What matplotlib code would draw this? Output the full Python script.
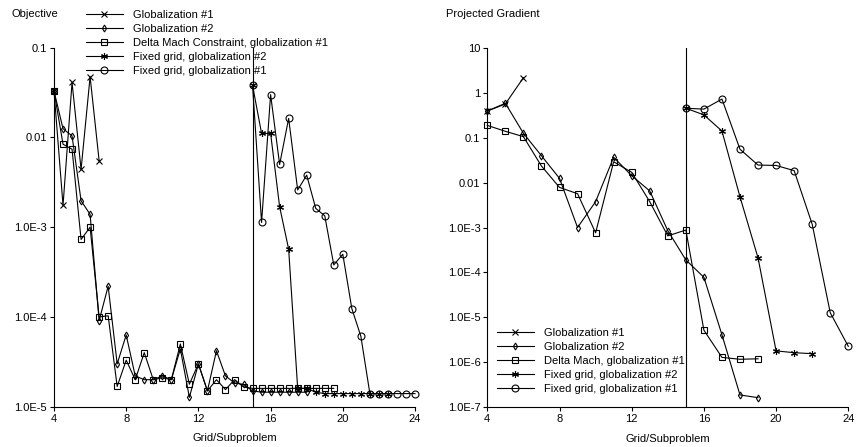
import matplotlib
matplotlib.use('Agg')
import matplotlib.pyplot as plt
from matplotlib.ticker import FixedLocator, FixedFormatter

plt.rcParams['font.family'] = ['Liberation Sans', 'DejaVu Sans']
plt.rcParams['font.size'] = 8

# ---- Objective (left panel), subproblems in steps of 0.5 ----
obj_g1_x = [4, 4.5, 5, 5.5, 6, 6.5]
obj_g1_y = [0.033, 0.00175, 0.041, 0.0044, 0.0475, 0.0055]

obj_g2_x = [4 + 0.5 * i for i in range(29)]
obj_g2_y = [0.033, 0.0125, 0.0104, 0.00197, 0.00139, 9.1e-5, 2.2e-4, 3.0e-5,
            6.3e-5, 2.2e-5, 2.0e-5, 2.0e-5, 2.2e-5, 2.0e-5, 4.4e-5, 1.27e-5,
            3.0e-5, 1.5e-5, 4.2e-5, 2.2e-5, 1.84e-5, 1.77e-5, 1.5e-5,
            1.45e-5, 1.45e-5, 1.45e-5, 1.45e-5, 1.45e-5, 1.45e-5]

obj_dm_x = [4 + 0.5 * i for i in range(32)]
obj_dm_y = [0.033, 0.0084, 0.0074, 7.3e-4, 1.0e-3, 1.0e-4, 1.03e-4, 1.68e-5,
            3.3e-5, 2.0e-5, 4.0e-5, 2.0e-5, 2.1e-5, 2.0e-5, 5.0e-5, 1.78e-5,
            3.0e-5, 1.5e-5, 2.0e-5, 1.55e-5, 2.0e-5, 1.66e-5, 1.6e-5,
            1.6e-5, 1.6e-5, 1.6e-5, 1.6e-5, 1.6e-5, 1.6e-5, 1.6e-5, 1.6e-5, 1.6e-5]

obj_fg2_x = [15 + 0.5 * i for i in range(16)]
obj_fg2_y = [0.038, 0.0111, 0.0111, 1.69e-3, 5.7e-4, 1.6e-5, 1.6e-5, 1.45e-5,
             1.4e-5, 1.4e-5, 1.4e-5, 1.4e-5, 1.4e-5, 1.4e-5, 1.4e-5, 1.4e-5]

obj_fg1_x = [15 + 0.5 * i for i in range(19)]
obj_fg1_y = [0.038, 1.13e-3, 0.030, 5.0e-3, 0.0163, 2.6e-3, 3.8e-3, 1.62e-3,
             1.34e-3, 3.8e-4, 5.0e-4, 1.24e-4, 6.1e-5, 1.4e-5, 1.4e-5, 1.4e-5,
             1.4e-5, 1.4e-5, 1.4e-5]

# ---- Projected gradient (right panel) ----
pg_g1_x = [4, 5, 6]
pg_g1_y = [0.39, 0.56, 2.15]

pg_g2_x = list(range(4, 20))
pg_g2_y = [0.39, 0.58, 0.125, 0.0395, 0.0124, 1.0e-3, 3.75e-3, 0.0365, 0.0142,
           6.5e-3, 8.5e-4, 1.9e-4, 7.8e-5, 4.1e-6, 1.88e-7, 1.64e-7]

pg_dm_x = list(range(4, 20))
pg_dm_y = [0.187, 0.138, 0.105, 0.0233, 7.8e-3, 5.65e-3, 7.6e-4, 0.029, 0.0169,
           3.75e-3, 6.5e-4, 8.8e-4, 5.2e-6, 1.29e-6, 1.17e-6, 1.2e-6]

pg_fg2_x = list(range(15, 23))
pg_fg2_y = [0.45, 0.32, 0.14, 4.8e-3, 2.1e-4, 1.8e-6, 1.64e-6, 1.56e-6]

pg_fg1_x = list(range(15, 25))
pg_fg1_y = [0.45, 0.43, 0.72, 0.055, 0.0245, 0.024, 0.0184, 1.18e-3, 1.27e-5, 2.27e-6]

left_labels = ['Globalization #1', 'Globalization #2',
               'Delta Mach Constraint, globalization #1',
               'Fixed grid, globalization #2', 'Fixed grid, globalization #1']
right_labels = ['Globalization #1', 'Globalization #2',
                'Delta Mach, globalization #1',
                'Fixed grid, globalization #2', 'Fixed grid, globalization #1']

x_ticks = [4, 8, 12, 16, 20, 24]
obj_ticks = [1e-5, 1e-4, 1e-3, 0.01, 0.1]
obj_tick_labels = ['1.0E-5', '1.0E-4', '1.0E-3', '0.01', '0.1']
pg_ticks = [1e-7, 1e-6, 1e-5, 1e-4, 1e-3, 0.01, 0.1, 1, 10]
pg_tick_labels = ['1.0E-7', '1.0E-6', '1.0E-5', '1.0E-4', '1.0E-3',
                  '0.01', '0.1', '1', '10']

styles = [dict(marker='x', ms=4),
          dict(marker='d', ms=3.5),
          dict(marker='s', ms=4.5),
          dict(marker=(6, 2, 0), ms=5),
          dict(marker='o', ms=5)]

W, H = 859, 447
fig = plt.figure(figsize=(W / 100, H / 100), dpi=100)
ax1 = fig.add_axes([54 / W, 1 - 406.7 / H, 361 / W, 359 / H])
ax2 = fig.add_axes([487.3 / W, 1 - 407.3 / H, 361 / W, 359.6 / H])


def draw(ax, series, labels, ticks, tick_labels, ylim):
    handles = []
    for (xs, ys), st, lab in zip(series, styles, labels):
        h, = ax.plot(xs, ys, color='black', lw=0.8, mfc='none', mec='black',
                     mew=0.8, label=lab, clip_on=False, **st)
        handles.append(h)
    ax.set_yscale('log')
    ax.set_xlim(4, 24)
    ax.set_ylim(*ylim)
    ax.axvline(15, color='black', lw=0.8)
    ax.yaxis.set_major_locator(FixedLocator(ticks))
    ax.yaxis.set_major_formatter(FixedFormatter(tick_labels))
    ax.yaxis.set_minor_locator(FixedLocator([]))
    ax.set_xticks(x_ticks)
    ax.tick_params(length=3, width=0.8, direction='out', labelsize=8, pad=2)
    for s in ['top', 'right']:
        ax.spines[s].set_visible(False)
    for s in ['left', 'bottom']:
        ax.spines[s].set_linewidth(0.8)
    ax.set_xlabel('Grid/Subproblem', fontsize=8, labelpad=7)
    return handles


h1 = draw(ax1, [(obj_g1_x, obj_g1_y), (obj_g2_x, obj_g2_y), (obj_dm_x, obj_dm_y),
                (obj_fg2_x, obj_fg2_y), (obj_fg1_x, obj_fg1_y)],
          left_labels, obj_ticks, obj_tick_labels, (1e-5, 0.1))
h2 = draw(ax2, [(pg_g1_x, pg_g1_y), (pg_g2_x, pg_g2_y), (pg_dm_x, pg_dm_y),
                (pg_fg2_x, pg_fg2_y), (pg_fg1_x, pg_fg1_y)],
          right_labels, pg_ticks, pg_tick_labels, (1e-7, 10))

leg_kw = dict(frameon=False, fontsize=8, handlelength=3.3, handletextpad=0.9,
              labelspacing=0.36, borderpad=0, borderaxespad=0, loc='upper left')
fig.legend(handles=h1, bbox_to_anchor=(86 / W, 1 - 10 / H), **leg_kw)
fig.legend(handles=h2, bbox_to_anchor=(497 / W, 1 - 328 / H), **leg_kw)

fig.text(12 / W, 1 - 14 / H, 'Objective', fontsize=8, va='center', ha='left')
fig.text(446 / W, 1 - 14 / H, 'Projected Gradient', fontsize=8, va='center', ha='left')

fig.savefig('out.png', dpi=100)
